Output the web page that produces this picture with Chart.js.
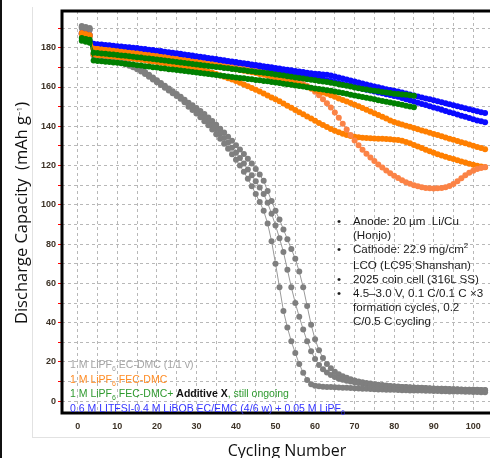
<!DOCTYPE html>
<html>
<head>
<meta charset="utf-8">
<script src="https://cdn.jsdelivr.net/npm/chart.js@4.4.1/dist/chart.umd.min.js"></script>
<style>
	body { margin: 0; width: 490px; height: 458px; overflow: hidden; background: #fff; }
	#wrap { position: relative; width: 500px; height: 458px; }
	#chart { position: absolute; left: 0; top: 0; }
	.abs { position: absolute; white-space: nowrap; }
	#edge { left: 0; top: 0; width: 2px; height: 458px; background: #111; }
	#frameV { left: 32px; top: 7px; width: 1px; height: 430px; background: #e2e2e2; }
	#frameH { left: 32px; top: 437px; width: 470px; height: 1px; background: #e2e2e2; }
	#ytitle { left: 20px; top: 213px; font: 16.5px "Open Sans", sans-serif; color: #111; transform: translate(-50%, -50%) rotate(-90deg); }
	#xtitle { left: 287px; top: 450px; font: 16px "Open Sans", sans-serif; color: #111; transform: translate(-50%, -50%); }
	#legend { left: 70px; top: 358px; font: 10.5px "Liberation Sans", Arial, sans-serif; line-height: 12.6px; }
	#notes { left: 337px; top: 214px; font: 11.6px "Liberation Sans", Arial, sans-serif; line-height: 14px; color: #1a1a1a; }
	#notes .it { position: relative; padding-left: 16px; }
	#notes .b { position: absolute; left: 0; }
	.sub { font-size: 7px; position: relative; top: 3px; }
	.sup { font-size: 8px; position: relative; top: -5px; }
</style>
</head>
<body>
<div id="wrap">
	<canvas id="chart" width="500" height="458"></canvas>
	<div class="abs" id="edge"></div>
	<div class="abs" id="frameV"></div>
	<div class="abs" id="frameH"></div>
	<div class="abs" id="ytitle">Discharge Capacity&nbsp; (mAh g<span class="sup">−1</span>)</div>
	<div class="abs" id="xtitle">Cycling Number</div>
	<div class="abs" id="legend">
		<div style="color:#a5a5a5">1 M LiPF<span class="sub">6</span> EC-DMC (1/1 v)</div>
		<div style="color:#ff8c24">1 M LiPF<span class="sub">6</span> FEC-DMC</div>
		<div style="color:#2f9a2f">1 M LiPF<span class="sub">6</span> FEC-DMC+ <b style="color:#111">Additive X</b>, still ongoing</div>
		<div style="color:#3434ff">0.6 M LITFSI-0.4 M LiBOB EC/EMC (4/6 w) + 0.05 M LiPF<span class="sub">6</span></div>
	</div>
	<div class="abs" id="notes">
		<div class="it"><span class="b">•</span>Anode: 20 µm&nbsp; Li/Cu<br>(Honjo)</div>
		<div class="it"><span class="b">•</span>Cathode: 22.9 mg/cm<span class="sup">2</span><br>LCO (LC95 Shanshan)</div>
		<div class="it"><span class="b">•</span>2025 coin cell (316L SS)</div>
		<div class="it"><span class="b">•</span>4.5–3.0 V, 0.1 C/0.1 C ×3<br>formation cycles, 0.2<br>C/0.5 C cycling</div>
	</div>
</div>
<script>
// Cycle numbers (x values)
const cycles = [
	1, 2, 3, 4, 5, 6, 7, 8, 9, 10,
	11, 12, 13, 14, 15, 16, 17, 18, 19, 20,
	21, 22, 23, 24, 25, 26, 27, 28, 29, 30,
	31, 32, 33, 34, 35, 36, 37, 38, 39, 40,
	41, 42, 43, 44, 45, 46, 47, 48, 49, 50,
	51, 52, 53, 54, 55, 56, 57, 58, 59, 60,
	61, 62, 63, 64, 65, 66, 67, 68, 69, 70,
	71, 72, 73, 74, 75, 76, 77, 78, 79, 80,
	81, 82, 83, 84, 85, 86, 87, 88, 89, 90,
	91, 92, 93, 94, 95, 96, 97, 98, 99, 100,
	101, 102, 103,
];

// 1 M LiPF6 EC-DMC (three cells)
const ecDmc1 = [
	190.5, 190, 189.5, 176, 175.5, 175, 174.5, 174, 173.5, 173,
	172.3, 171.6, 170.8, 170, 169, 167.9, 166.6, 165.2, 163.8, 162.4,
	161, 159.6, 158.2, 156.8, 155.4, 154, 152.2, 150, 148.3, 146.5,
	144.6, 142.6, 140.5, 138.3, 136, 133.6, 131.1, 128.5, 125.8, 123,
	120, 116.8, 113.3, 109.5, 105.5, 101.5, 97, 90.5, 81.5, 70,
	58, 46, 37.5, 30.5, 24.5, 19, 14.5, 10.8, 8.6, 7.9,
	7.6, 7.4, 7.3, 7.2, 7.1, 7, 6.9, 6.8, 6.7, 6.6,
	6.5, 6.4, 6.3, 6.2, 6.1, 6, 6, 5.9, 5.8, 5.8,
	5.7, 5.6, 5.6, 5.5, 5.5, 5.4, 5.4, 5.3, 5.3, 5.2,
	5.2, 5.1, 5.1, 5, 5, 4.9, 4.9, 4.8, 4.8, 4.7,
	4.7, 4.6, 4.6,
];
const ecDmc2 = [
	191, 190.5, 190, 176.5, 176, 175.5, 175, 174.5, 174, 173.5,
	172.8, 172, 171.2, 170.4, 169.5, 168.4, 167.1, 165.7, 164.3, 162.9,
	161.5, 160.1, 158.7, 157.3, 155.9, 154.5, 152.8, 151, 149.5, 148,
	146.3, 144.5, 142.6, 140.6, 138.5, 136.3, 134, 131.6, 129.1, 126.5,
	123.8, 121, 118, 115, 112, 108.8, 105.5, 101, 95.5, 89.5,
	83, 76, 67, 58, 50, 43, 36.5, 30.5, 25.5, 21.5,
	18.5, 16.3, 14.6, 13.3, 12.3, 11.5, 10.9, 10.4, 10, 9.6,
	9.3, 9, 8.7, 8.5, 8.3, 8.1, 7.9, 7.7, 7.6, 7.4,
	7.3, 7.2, 7.1, 7, 6.9, 6.8, 6.7, 6.6, 6.5, 6.4,
	6.3, 6.3, 6.2, 6.1, 6.1, 6, 5.9, 5.9, 5.8, 5.8,
	5.7, 5.7, 5.6,
];
const ecDmc3 = [
	190, 189.5, 189, 177, 176.5, 176, 175.5, 175, 174.5, 174,
	173.3, 172.5, 171.7, 170.9, 170, 168.9, 167.6, 166.2, 164.8, 163.4,
	162, 160.6, 159.2, 157.8, 156.4, 155, 153.5, 152, 150.7, 149.3,
	147.8, 146.2, 144.5, 142.7, 140.8, 138.8, 136.8, 134.7, 132.6, 130.4,
	128.2, 125.9, 123.5, 121, 118.3, 115.4, 112.2, 107, 102, 97,
	92.5, 87.5, 82.5, 77.5, 72.5, 66, 58, 48.5, 39, 31.5,
	26, 22, 19, 16.8, 15, 13.7, 12.7, 11.9, 11.2, 10.6,
	10.1, 9.7, 9.3, 9, 8.7, 8.4, 8.2, 8, 7.8, 7.6,
	7.5, 7.3, 7.2, 7.1, 7, 6.9, 6.8, 6.7, 6.6, 6.5,
	6.4, 6.3, 6.3, 6.2, 6.1, 6.1, 6, 5.9, 5.9, 5.8,
	5.8, 5.7, 5.7,
];

// 1 M LiPF6 FEC-DMC (three cells)
const fecDmc1 = [
	187.5, 187, 186.5, 179.5, 179.3, 179.1, 178.9, 178.7, 178.5, 178.2,
	178, 177.7, 177.5, 177.2, 177, 176.7, 176.4, 176.2, 175.9, 175.6,
	175.3, 175, 174.7, 174.4, 174.1, 173.8, 173.5, 173.2, 172.9, 172.6,
	172.3, 172, 171.6, 171.3, 170.9, 170.6, 170.2, 169.9, 169.5, 169.1,
	168.7, 168.3, 167.9, 167.5, 167.1, 166.6, 166.2, 165.7, 165.2, 164.7,
	164.2, 163.7, 163.1, 162.5, 161.9, 161.3, 160.7, 160, 159.3, 158.6,
	157.9, 157.2, 156.5, 155.8, 155, 154.2, 153.4, 152.6, 151.8, 151,
	150.2, 149.3, 148.4, 147.5, 146.6, 145.7, 144.8, 143.9, 143, 142.2,
	141.5, 140.9, 140.3, 139.7, 139.1, 138.5, 137.9, 137.3, 136.7, 136.1,
	135.5, 134.9, 134.3, 133.7, 133.1, 132.5, 131.9, 131.3, 130.7, 130.1,
	129.5, 128.9, 128.3,
];
const fecDmc2 = [
	187, 186.5, 186, 179.5, 179.3, 179, 178.8, 178.5, 178.3, 178,
	177.8, 177.5, 177.3, 177, 176.8, 176.5, 176.3, 176, 175.8, 175.5,
	175.2, 175, 174.7, 174.4, 174.1, 173.8, 173.5, 173.2, 172.9, 172.6,
	172.3, 172, 171.7, 171.4, 171.1, 170.8, 170.5, 170.2, 169.9, 169.6,
	169.3, 169, 168.7, 168.3, 168, 167.6, 167.2, 166.8, 166.4, 166,
	165.3, 164.8, 164.2, 163.6, 163, 162.3, 161.5, 160.5, 159.2, 157.6,
	155.8, 153.8, 151.7, 149.5, 147, 144.3, 141.3, 138.3, 135.5, 132.8,
	130.3, 128, 126, 124.1, 122.3, 120.6, 119, 117.5, 116.1, 114.8,
	113.6, 112.5, 111.5, 110.7, 110, 109.4, 108.9, 108.6, 108.4, 108.3,
	108.4, 108.6, 109, 109.6, 110.6, 112, 113.5, 115, 116.3, 117.3,
	118.2, 118.8, 119.3,
];
const fecDmc3 = [
	187, 186.5, 186, 176.5, 176.3, 176.1, 175.9, 175.7, 175.5, 175.3,
	175.1, 174.9, 174.6, 174.4, 174.1, 173.9, 173.6, 173.3, 173, 172.7,
	172.4, 172.1, 171.8, 171.5, 171.2, 170.9, 170.5, 170.1, 169.7, 169.3,
	168.8, 168.3, 167.8, 167.2, 166.6, 165.9, 165.2, 164.5, 163.8, 163,
	162.2, 161.3, 160.4, 159.5, 158.6, 157.7, 156.7, 155.7, 154.7, 153.7,
	152.7, 151.6, 150.5, 149.4, 148.3, 147.2, 146.1, 145, 143.9, 142.8,
	141.7, 140.6, 139.6, 138.6, 137.7, 136.9, 136.2, 135.6, 135.1, 134.7,
	134.4, 134.2, 134, 133.9, 133.8, 133.7, 133.6, 133.5, 133.4, 133.2,
	133, 132.6, 132, 131.3, 130.5, 129.7, 128.9, 128.1, 127.3, 126.5,
	125.8, 125.1, 124.5, 123.9, 123.3, 122.7, 122.1, 121.5, 120.9, 120.4,
	119.9, 119.5, 119.1,
];

// 1 M LiPF6 FEC-DMC + Additive X (two cells, up to cycle 85)
const additiveX1 = [
	185, 184.5, 184, 177.5, 177.3, 177.1, 176.9, 176.7, 176.5, 176.3,
	176.1, 175.9, 175.7, 175.4, 175.2, 175, 174.7, 174.5, 174.2, 174,
	173.7, 173.5, 173.2, 173, 172.7, 172.5, 172.2, 172, 171.7, 171.5,
	171.2, 171, 170.7, 170.5, 170.2, 170, 169.7, 169.5, 169.2, 169,
	168.7, 168.5, 168.2, 168, 167.7, 167.5, 167.2, 167, 166.7, 166.4,
	166.1, 165.8, 165.5, 165.2, 164.9, 164.6, 164.3, 164, 163.7, 163.4,
	163.1, 162.8, 162.5, 162.2, 161.8, 161.4, 161, 160.6, 160.2, 159.8,
	159.4, 159, 158.7, 158.4, 158.1, 157.8, 157.5, 157.2, 156.9, 156.6,
	156.4, 156.2, 156, 155.8, 155.6,
];
const additiveX2 = [
	183.5, 183, 182.5, 173.5, 173.3, 173.1, 172.9, 172.7, 172.5, 172.3,
	172.1, 171.9, 171.6, 171.4, 171.1, 170.9, 170.6, 170.4, 170.1, 169.9,
	169.6, 169.4, 169.1, 168.9, 168.6, 168.4, 168.1, 167.9, 167.6, 167.4,
	167.1, 166.9, 166.6, 166.4, 166.1, 165.9, 165.6, 165.4, 165.1, 164.9,
	164.6, 164.4, 164.1, 163.9, 163.6, 163.4, 163.1, 162.9, 162.6, 162.3,
	162, 161.7, 161.4, 161.1, 160.8, 160.5, 160.2, 159.9, 159.6, 159.3,
	159, 158.7, 158.4, 158.1, 157.7, 157.3, 156.9, 156.5, 156.1, 155.7,
	155.3, 154.9, 154.5, 154.1, 153.7, 153.3, 152.9, 152.5, 152.1, 151.7,
	151.3, 150.9, 150.5, 150.1, 149.7,
];

// 0.6 M LiTFSI-0.4 M LiBOB EC/EMC + 0.05 M LiPF6 (two cells)
const dualSalt1 = [
	187.5, 187, 186.5, 182, 181.8, 181.6, 181.4, 181.2, 181, 180.8,
	180.6, 180.4, 180.2, 180, 179.8, 179.5, 179.3, 179, 178.8, 178.5,
	178.3, 178, 177.7, 177.5, 177.2, 176.9, 176.6, 176.3, 176, 175.7,
	175.4, 175.1, 174.8, 174.5, 174.2, 173.9, 173.6, 173.3, 173, 172.7,
	172.4, 172.1, 171.8, 171.5, 171.2, 170.9, 170.6, 170.3, 170, 169.7,
	169.4, 169.1, 168.8, 168.5, 168.2, 167.9, 167.6, 167.3, 167, 166.8,
	166.6, 166.4, 166.2, 165.8, 165.3, 164.8, 164.3, 163.8, 163.3, 162.8,
	162.3, 161.8, 161.3, 160.8, 160.3, 159.9, 159.4, 158.9, 158.5, 158.1,
	157.7, 157.2, 156.7, 156.2, 155.7, 155.2, 154.7, 154.2, 153.7, 153.2,
	152.7, 152.2, 151.7, 151.2, 150.7, 150.2, 149.7, 149.2, 148.7, 148.2,
	147.7, 147.2, 146.8,
];
const dualSalt2 = [
	187, 186.5, 186, 181, 180.8, 180.6, 180.4, 180.2, 180, 179.8,
	179.6, 179.4, 179.2, 179, 178.8, 178.5, 178.3, 178, 177.8, 177.5,
	177.3, 177, 176.7, 176.5, 176.2, 175.9, 175.6, 175.3, 175, 174.7,
	174.5, 174.2, 173.9, 173.7, 173.4, 173.1, 172.8, 172.5, 172.2, 171.9,
	171.6, 171.3, 171, 170.7, 170.4, 170.1, 169.8, 169.5, 169.1, 168.8,
	168.4, 168.1, 167.7, 167.3, 166.9, 166.5, 166.1, 165.7, 165.3, 164.9,
	164.4, 163.9, 163.4, 163, 162.5, 162, 161.5, 161, 160.6, 160.1,
	159.6, 159.1, 158.6, 158.2, 157.7, 157.2, 156.8, 156.3, 155.9, 155.4,
	155, 154.4, 153.8, 153.2, 152.6, 152, 151.4, 150.8, 150.2, 149.6,
	149, 148.4, 147.8, 147.2, 146.6, 146, 145.4, 144.8, 144.2, 143.6,
	143, 142.5, 142,
];

// Grid positions and labels
const xGrid = [0, 5, 10, 15, 20, 25, 30, 35, 40, 45, 50, 55, 60, 65, 70, 75, 80, 85, 90, 95, 100];
const xLabels = [0, 10, 20, 30, 40, 50, 60, 70, 80, 90, 100];
const yGrid = [0, 10, 20, 30, 40, 50, 60, 70, 80, 90, 100, 110, 120, 130, 140, 150, 160, 170, 180, 190];
const yLabels = [0, 20, 40, 60, 80, 100, 120, 140, 160, 180];

const GRAY = "#7f7f7f";
const ORANGE = "#ff7f00";
const SALMON = "#fb8346";
const GREEN = "#008000";
const BLUE = "#0a0aff";

function makeSeries(values, color, lineColor) {
	return {
		data: values.map((v, i) => ({ x: cycles[i], y: v })),
		borderColor: lineColor || color,
		backgroundColor: color,
		pointBackgroundColor: color,
		pointBorderColor: color,
		borderWidth: 1,
		pointRadius: 3,
		pointBorderWidth: 0,
		pointHoverRadius: 0,
		tension: 0,
	};
}

// Thick black box round the plot area
const framePlugin = {
	id: "frame",
	afterDatasetsDraw(chart) {
		const { ctx, chartArea } = chart;
		ctx.save();
		ctx.strokeStyle = "#000";
		ctx.lineWidth = 3;
		ctx.strokeRect(chartArea.left, chartArea.top, chartArea.right - chartArea.left, chartArea.bottom - chartArea.top);
		ctx.restore();
	},
};

const tickFont = { family: "'Liberation Sans', Arial, sans-serif", size: 9, weight: "bold" };

// First dataset is drawn on top
const chart = new Chart(document.getElementById("chart").getContext("2d"), {
	type: "line",
	data: {
		datasets: [
			makeSeries(additiveX1, GREEN),
			makeSeries(additiveX2, GREEN),
			makeSeries(fecDmc1, ORANGE),
			makeSeries(fecDmc2, SALMON),
			makeSeries(fecDmc3, ORANGE),
			makeSeries(dualSalt1, BLUE),
			makeSeries(dualSalt2, BLUE),
			makeSeries(ecDmc1, GRAY, "#9a9a9a"),
			makeSeries(ecDmc2, GRAY, "#9a9a9a"),
			makeSeries(ecDmc3, GRAY, "#9a9a9a"),
		],
	},
	options: {
		responsive: false,
		animation: false,
		events: [],
		layout: { padding: { top: 11, right: 7, left: 0, bottom: 0 } },
		plugins: {
			legend: { display: false },
			tooltip: { enabled: false },
		},
		scales: {
			x: {
				type: "linear",
				min: -4,
				max: 105,
				afterBuildTicks: (axis) => {
					axis.ticks = xGrid.map((v) => ({ value: v }));
				},
				afterFit: (axis) => {
					axis.height = 45;
				},
				ticks: {
					autoSkip: false,
					maxRotation: 0,
					padding: 8,
					color: "#3d3226",
					font: tickFont,
					callback: (v) => (xLabels.includes(v) ? String(v) : ""),
				},
				grid: {
					color: "#b8b8b8",
					lineWidth: 1,
					drawTicks: false,
					borderDash: [3, 3],
				},
				border: { display: true, width: 0, color: "rgba(0,0,0,0)", dash: [3, 3] },
			},
			y: {
				min: -6,
				max: 198.7,
				afterBuildTicks: (axis) => {
					axis.ticks = yGrid.map((v) => ({ value: v }));
				},
				afterFit: (axis) => {
					axis.width = 62;
				},
				ticks: {
					autoSkip: false,
					padding: 2,
					color: "#3d3226",
					font: tickFont,
					callback: (v) => (yLabels.includes(v) ? String(v) : ""),
				},
				grid: {
					color: "#b8b8b8",
					lineWidth: 1,
					drawTicks: true,
					tickLength: 4,
					tickColor: "#ff0000",
					borderDash: [3, 3],
					tickBorderDash: [],
				},
				border: { display: true, width: 0, color: "rgba(0,0,0,0)", dash: [3, 3] },
			},
		},
	},
	plugins: [framePlugin],
});
</script>
</body>
</html>
